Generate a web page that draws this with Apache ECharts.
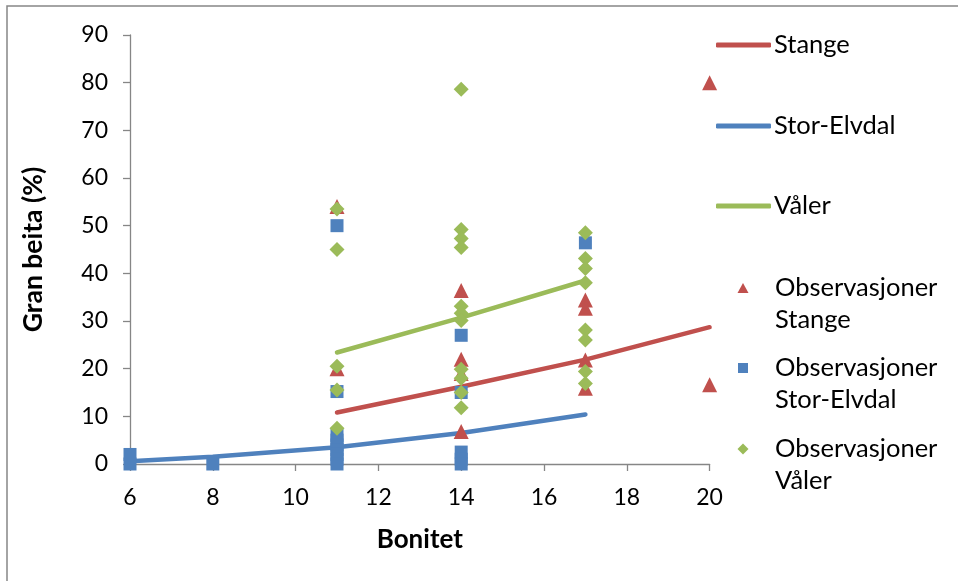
<!DOCTYPE html>
<html><head><meta charset="utf-8">
<script src="https://cdn.jsdelivr.net/npm/echarts@6/dist/echarts.min.js"></script>
<style>html,body{margin:0;padding:0;background:#fff}#c{width:958px;height:581px}</style>
</head><body><div id="c"></div>
<script>
// Trend lines
const stangeLineX = [11, 14, 17, 20];
const stangeLineY = [10.8, 16.2, 21.9, 28.7];
const storLineX = [6, 8, 11, 14, 17];
const storLineY = [0.6, 1.5, 3.5, 6.5, 10.4];
const valerLineX = [11, 14, 17];
const valerLineY = [23.4, 30.7, 38.5];
// Observations
const stangeObsX = [11, 11, 14, 14, 14, 14, 17, 17, 17, 17, 20, 20];
const stangeObsY = [54, 20, 36.4, 22, 19, 6.8, 34.4, 32.7, 21.8, 15.9, 80, 16.6];
const storObsX = [6, 6, 8, 11, 11, 11, 11, 11, 11, 11, 11, 11, 14, 14, 14, 14, 14, 17];
const storObsY = [0, 2, 0, 50, 15.2, 6, 5, 4, 3, 2, 1, 0, 27, 15, 2.5, 1, 0, 46.4];
const valerObsX = [11, 11, 11, 11, 11, 14, 14, 14, 14, 14, 14, 14, 14, 14, 14, 14, 17, 17, 17, 17, 17, 17, 17, 17];
const valerObsY = [53.5, 45, 20.5, 15.5, 7.5, 78.6, 49.2, 47.3, 45.4, 33.1, 31.6, 30.1, 19.9, 18, 15, 11.8, 48.5, 43.1, 41, 38, 28.1, 26, 19.4, 16.9];
const xTicks = {min: 6, max: 20, interval: 2};
const yTicks = {min: 0, max: 90, interval: 10};

const RED = '#C0504D', BLUE = '#4F81BD', GREEN = '#9BBB59', AX = '#868686';
const FONT = 'Lato';
const LEG_FS = 25.5;
const zip = (xs, ys) => xs.map((x, i) => [x, ys[i]]);

const lineSeries = (name, xs, ys, color) => ({
  name, type: 'line', data: zip(xs, ys), symbol: 'none', showSymbol: false,
  lineStyle: {color, width: 4.5, cap: 'round'}, itemStyle: {color}, z: 2, silent: true
});
const scatterSeries = (name, xs, ys, color, symbol, size) => ({
  name, type: 'scatter', data: zip(xs, ys), symbol, symbolSize: size,
  itemStyle: {color, opacity: 1}, z: 3, silent: true
});

const textStyle = {fontFamily: FONT, fontSize: LEG_FS, color: '#000', lineHeight: 24};
const lineLegend = (name, top) => ({
  data: [name], left: 716, top, icon: 'roundRect', itemWidth: 55, itemHeight: 5,
  textStyle: Object.assign({}, textStyle, {padding: [0, 0, 0, -2]}), selectedMode: false, padding: 0
});
const obsLegend = (name, label, top, icon, w, h) => ({
  data: [{name, icon}], left: 743 - w / 2, top, itemWidth: w, itemHeight: h,
  formatter: () => label,
  textStyle: Object.assign({}, textStyle, {padding: [0, 0, 0, 27 - w / 2]}), selectedMode: false, padding: 0
});

const chart = echarts.init(document.getElementById('c'), null, {renderer: 'canvas'});
chart.setOption({
  animation: false,
  backgroundColor: '#fff',
  grid: {left: 130, top: 35, right: 248.4, bottom: 117},
  xAxis: {
    type: 'value', min: xTicks.min, max: xTicks.max, interval: xTicks.interval,
    name: 'Bonitet', nameLocation: 'middle', nameGap: 63,
    nameTextStyle: {fontFamily: FONT, fontSize: 26, fontWeight: 'bold', color: '#000'},
    axisLine: {show: true, lineStyle: {color: AX, width: 1.3}},
    axisTick: {show: true, inside: false, length: 7, lineStyle: {color: AX, width: 1.3}},
    axisLabel: {fontFamily: FONT, fontSize: 23, color: '#000', margin: 22},
    splitLine: {show: false}
  },
  yAxis: {
    type: 'value', min: yTicks.min, max: yTicks.max, interval: yTicks.interval,
    name: 'Gran beita (%)', nameLocation: 'middle', nameGap: 83,
    nameTextStyle: {fontFamily: FONT, fontSize: 26.5, fontWeight: 'bold', color: '#000'},
    axisLine: {show: true, lineStyle: {color: AX, width: 1.3}},
    axisTick: {show: true, inside: false, length: 7, lineStyle: {color: AX, width: 1.3}},
    axisLabel: {fontFamily: FONT, fontSize: 23, color: '#000', margin: 22},
    splitLine: {show: false}
  },
  legend: [
    lineLegend('Stange', 32),
    lineLegend('Stor-Elvdal', 113),
    lineLegend('Våler', 193),
    obsLegend('Observasjoner Stange', 'Observasjoner', 275, 'triangle', 11, 10),
    obsLegend('Observasjoner Stor-Elvdal', 'Observasjoner', 355, 'rect', 10, 10),
    obsLegend('Observasjoner Våler', 'Observasjoner', 436, 'diamond', 11, 11)
  ],
  graphic: [
    {type: 'rect', shape: {x: 7, y: 6, width: 1000, height: 700}, style: {fill: 'none', stroke: AX, lineWidth: 1.5}, silent: true, z: -10},
    {type: 'text', left: 775, top: 307, style: {text: 'Stange', font: LEG_FS + 'px ' + FONT, fill: '#000'}},
    {type: 'text', left: 775, top: 387, style: {text: 'Stor-Elvdal', font: LEG_FS + 'px ' + FONT, fill: '#000'}},
    {type: 'text', left: 775, top: 468, style: {text: 'Våler', font: LEG_FS + 'px ' + FONT, fill: '#000'}}
  ],
  series: [
    lineSeries('Stange', stangeLineX, stangeLineY, RED),
    lineSeries('Stor-Elvdal', storLineX, storLineY, BLUE),
    lineSeries('Våler', valerLineX, valerLineY, GREEN),
    scatterSeries('Observasjoner Stange', stangeObsX, stangeObsY, RED, 'triangle', 15),
    scatterSeries('Observasjoner Stor-Elvdal', storObsX, storObsY, BLUE, 'rect', 13),
    scatterSeries('Observasjoner Våler', valerObsX, valerObsY, GREEN, 'diamond', 15)
  ]
});
</script></body></html>
